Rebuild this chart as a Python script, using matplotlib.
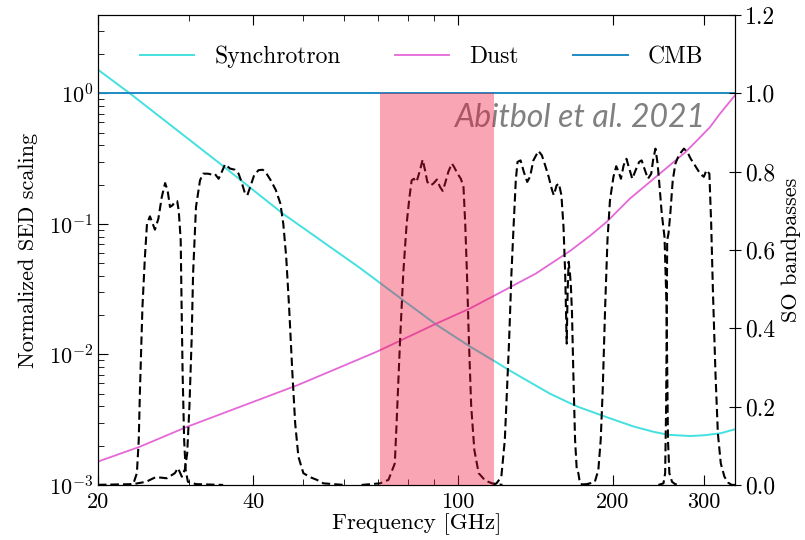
import matplotlib
matplotlib.use('Agg')
import matplotlib.pyplot as plt
from matplotlib.ticker import NullFormatter

# foreground SEDs, normalized (GHz, value)
synch_freq = [20.0, 23.07, 34.5, 45.7, 64.5, 78.3, 91.0, 105.5, 118.2, 126.2,
              150.9, 170.1, 194.6, 219.5, 240.0, 256.3, 282.2, 300.0, 323.8, 345.0]
synch_sed = [1.52, 1.0, 0.29, 0.12, 0.046, 0.026, 0.0168, 0.0115, 0.0088, 0.0075,
             0.0050, 0.0040, 0.0033, 0.0028, 0.00255, 0.00242, 0.00237, 0.0024, 0.00249, 0.00267]

dust_freq = [20.0, 24.1, 29.8, 48.9, 69.6, 91.0, 105.5, 118.2, 141.7, 165.0,
             180.4, 194.6, 215.6, 248.7, 276.8, 295.0, 308.6, 322.7, 345.0]
dust_sed = [0.00151, 0.00196, 0.00279, 0.00583, 0.0105, 0.0173, 0.0225, 0.0285, 0.0417, 0.062,
            0.081, 0.104, 0.156, 0.25, 0.356, 0.46, 0.552, 0.70, 0.966]

cmb_freq = [20.0, 345.0]
cmb_sed = [1.0, 1.0]

# SO bandpasses as (GHz, transmission)
lf1 = [(20.0, 0.0), (23.0, 0.0), (23.44, 0.004), (23.8, 0.03), (24.0, 0.115), (24.13, 0.242),
       (24.4, 0.455), (24.67, 0.582), (24.9, 0.667), (25.23, 0.686), (25.4, 0.676), (25.8, 0.652),
       (26.2, 0.680), (26.6, 0.735), (27.0, 0.771), (27.3, 0.753), (27.6, 0.710), (27.9, 0.714),
       (28.2, 0.723), (28.5, 0.725), (28.7, 0.70), (28.95, 0.625), (29.07, 0.455), (29.2, 0.285),
       (29.4, 0.115), (29.6, 0.038), (29.9, 0.008), (31.0, 0.002), (35.0, 0.0)]

lf2 = [(20.0, 0.0), (23.4, 0.002), (24.8, 0.008), (25.9, 0.02), (27.2, 0.017), (28.2, 0.03),
       (28.6, 0.043), (29.1, 0.021), (29.5, 0.04), (29.8, 0.08), (30.1, 0.2), (30.4, 0.37),
       (30.6, 0.54), (31.0, 0.71), (31.56, 0.778), (32.0, 0.795), (32.7, 0.795), (33.2, 0.793),
       (33.7, 0.795), (34.3, 0.782), (34.8, 0.80), (35.3, 0.819), (36.1, 0.808), (36.9, 0.805),
       (37.5, 0.795), (38.0, 0.774), (38.6, 0.744), (39.0, 0.740), (39.5, 0.761), (40.2, 0.791),
       (41.0, 0.804), (41.8, 0.805), (42.5, 0.795), (43.3, 0.778), (44.3, 0.753), (45.2, 0.719),
       (45.8, 0.667), (46.4, 0.582), (47.0, 0.455), (47.7, 0.285), (48.3, 0.157), (49.0, 0.072),
       (50.1, 0.03), (51.6, 0.02), (53.2, 0.013), (54.8, 0.004), (60.0, 0.0)]

mf1 = [(65.0, 0.0), (70.6, 0.004), (73.3, 0.013), (75.4, 0.055), (76.0, 0.157), (77.2, 0.37),
       (78.3, 0.54), (79.5, 0.667), (80.5, 0.735), (81.3, 0.778), (82.1, 0.782), (83.1, 0.774),
       (84.4, 0.804), (85.4, 0.831), (86.3, 0.804), (87.2, 0.774), (88.5, 0.765), (89.6, 0.770),
       (91.0, 0.780), (92.3, 0.761), (93.4, 0.751), (94.4, 0.770), (95.8, 0.80), (97.3, 0.821),
       (98.3, 0.812), (99.8, 0.795), (101.3, 0.782), (102.5, 0.761), (103.3, 0.667), (104.1, 0.54),
       (105.0, 0.37), (106.1, 0.20), (107.6, 0.089), (109.7, 0.03), (113.0, 0.011), (116.5, 0.004),
       (122.0, 0.0)]

mf2 = [(117.0, 0.0), (118.8, 0.004), (121.4, 0.021), (123.3, 0.115), (124.5, 0.242), (125.7, 0.37),
       (127.0, 0.54), (128.3, 0.667), (129.5, 0.778), (130.5, 0.825), (132.3, 0.829), (134.2, 0.80),
       (136.3, 0.774), (138.0, 0.787), (140.1, 0.829), (143.3, 0.853), (145.5, 0.842), (147.7, 0.816),
       (150.0, 0.787), (152.3, 0.753), (153.5, 0.740), (155.4, 0.765), (157.0, 0.770), (158.8, 0.740),
       (160.3, 0.659), (161.5, 0.54), (162.6, 0.361), (163.3, 0.497), (164.0, 0.57), (165.0, 0.54),
       (165.7, 0.506), (166.5, 0.438), (167.5, 0.285), (168.8, 0.115), (170.1, 0.038), (171.3, 0.03),
       (172.1, 0.013), (173.1, 0.002), (180.0, 0.0)]

uhf1 = [(175.0, 0.0), (180.4, 0.004), (184.4, 0.008), (187.3, 0.038), (189.3, 0.115), (191.0, 0.242),
        (193.1, 0.455), (195.1, 0.625), (197.3, 0.727), (200.4, 0.787), (202.9, 0.814), (205.0, 0.80),
        (207.2, 0.782), (209.7, 0.816), (212.4, 0.833), (214.6, 0.812), (218.0, 0.782), (221.3, 0.804),
        (224.8, 0.825), (227.3, 0.829), (230.1, 0.808), (233.8, 0.782), (237.3, 0.795), (239.2, 0.829),
        (241.8, 0.859), (244.1, 0.821), (246.0, 0.77), (248.7, 0.693), (251.8, 0.633), (254.1, 0.455),
        (254.9, 0.285), (255.7, 0.115), (257.3, 0.03), (260.4, 0.008), (264.0, 0.002), (270.0, 0.0)]

uhf2 = [(245.0, 0.0), (250.6, 0.004), (252.5, 0.03), (253.6, 0.20), (254.4, 0.455), (254.8, 0.625),
        (256.3, 0.642), (258.4, 0.693), (261.2, 0.778), (264.4, 0.821), (268.4, 0.842), (274.6, 0.859),
        (278.9, 0.850), (283.1, 0.833), (289.8, 0.812), (295.3, 0.795), (300.1, 0.787), (303.8, 0.804),
        (307.7, 0.795), (310.2, 0.667), (312.6, 0.497), (316.2, 0.285), (319.6, 0.132), (323.8, 0.055),
        (329.1, 0.021), (334.5, 0.006), (340.0, 0.0), (345.0, 0.0)]

bands = [lf1, lf2, mf1, mf2, uhf1, uhf2]

# highlighted channel
band_lo, band_hi = 70.5, 117.5

plt.rcParams['font.family'] = 'cmr10'
plt.rcParams['mathtext.fontset'] = 'cm'
plt.rcParams['axes.formatter.use_mathtext'] = True
plt.rcParams['font.size'] = 16

fig = plt.figure(figsize=(8.05, 5.4), dpi=100)
fig.subplots_adjust(left=0.1217, right=0.913, bottom=0.102, top=0.972)
ax = fig.add_subplot(111)

ax.plot(synch_freq, synch_sed, color='#44e0e0', lw=1.4, label='Synchrotron')
ax.plot(dust_freq, dust_sed, color='#e468d8', lw=1.3, label='Dust')
ax.plot(cmb_freq, cmb_sed, color='#1e8bc3', lw=1.4, label='CMB')

ax.set_xscale('log')
ax.set_yscale('log')
ax.set_xlim(20, 345)
ax.set_ylim(1e-3, 10**0.6)
ax.set_xticks([20, 40, 100, 200, 300])
ax.set_xticklabels(['20', '40', '100', '200', '300'])
ax.set_xticks([30, 50, 60, 70, 80, 90], minor=True)
ax.xaxis.set_minor_formatter(NullFormatter())
ax.tick_params(which='both', direction='in', top=True)
ax.tick_params(which='major', length=7)
ax.tick_params(which='minor', length=4)
ax.tick_params(axis='x', pad=5.5)
ax.set_xlabel('Frequency [GHz]', labelpad=1, fontsize=16.5)
ax.set_ylabel('Normalized SED scaling', labelpad=8)

ax.legend(loc='center', bbox_to_anchor=(0.508, 0.911), ncol=3, frameon=False,
          handlelength=2.3, handletextpad=0.85, columnspacing=2.3, fontsize=17)

ax.text(0.953, 0.781, 'Abitbol et al. 2021', transform=ax.transAxes, ha='right', va='center',
        family='Lato', style='italic', fontsize=23, color='#808080')

ax2 = ax.twinx()
for b in bands:
    f = [p[0] for p in b]
    v = [p[1] for p in b]
    ax2.plot(f, v, 'k--', lw=1.5, dashes=(4, 2))
ax2.fill_between([band_lo, band_hi], 0, 1.0, color='#f0143c', alpha=0.38, lw=0, zorder=5)
ax2.set_ylim(0, 1.2)
ax2.set_yticks([0.0, 0.2, 0.4, 0.6, 0.8, 1.0, 1.2])
ax2.set_yticklabels(['0.0', '0.2', '0.4', '0.6', '0.8', '1.0', '1.2'])
ax2.tick_params(direction='inout', length=8, labelsize=17, pad=3)
ax2.set_ylabel('SO bandpasses', labelpad=5)

fig.savefig('out.png', dpi=100)
